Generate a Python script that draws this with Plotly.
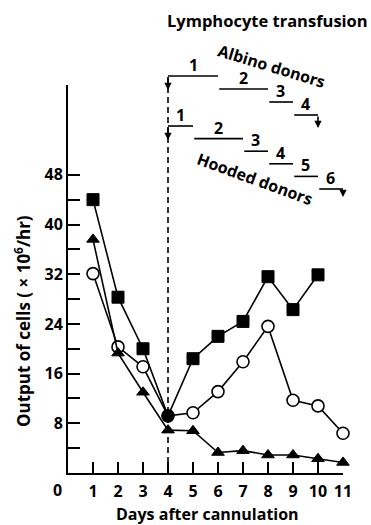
import plotly.graph_objects as go

# ---- data ----
days = [1, 2, 3, 4, 5, 6, 7, 8, 9, 10, 11]
squares = [44, 28.3, 20, 9.2, 18.4, 22, 24.4, 31.6, 26.3, 31.9]
circles = [32.1, 20.3, 17.1, 9.2, 9.7, 13.1, 17.9, 23.6, 11.7, 10.8, 6.4]
triangles = [37.6, 19.3, 13.0, 6.9, 6.8, 3.3, 3.6, 2.9, 2.9, 2.3, 1.7]

albino_start = [4, 6, 8, 9]
albino_end = [6, 8, 9, 10]
hooded_start = [4, 5, 7, 8, 9, 10]
hooded_end = [5, 7, 8, 9, 10, 11]

ytickvals = [4, 8, 12, 16, 20, 24, 28, 32, 36, 40, 44, 48]
yticktext = ["", "8", "", "16", "", "24", "", "32", "", "40", "", "48"]

# ---- layout geometry ----
W, H = 371, 525
ML, MR, MT, MB = 68, 28, 85, 52
PH = H - MT - MB
PW = W - ML - MR
FONT = "Open Sans"
FS = 16


def py(Y):  # pixel y -> paper y
    return (H - MB - Y) / PH


def px(X):
    return (X - ML) / PW


fig = go.Figure()

ln = dict(color="black", width=1.6)
sq_symbols = ["square"] * len(squares)
sq_symbols[3] = "circle"
fig.add_trace(go.Scatter(x=days[:len(squares)], y=squares, mode="lines+markers",
                         line=ln, cliponaxis=False,
                         marker=dict(symbol=sq_symbols, size=12, color="black",
                                     line=dict(color="black", width=1))))
circ_fill = ["white"] * len(circles)
circ_fill[3] = "black"
fig.add_trace(go.Scatter(x=days, y=circles, mode="lines+markers", line=ln,
                         cliponaxis=False,
                         marker=dict(symbol="circle", size=12, color=circ_fill,
                                     line=dict(color="black", width=1.6))))
fig.add_trace(go.Scatter(x=days, y=triangles, mode="lines+markers", line=ln,
                         cliponaxis=False,
                         marker=dict(symbol="triangle-up", size=11, color="black",
                                     line=dict(color="black", width=1))))

shapes = []
annotations = []

# dashed transfusion line
shapes.append(dict(type="line", xref="x", yref="paper", x0=4, x1=4, y0=0, y1=py(77),
                   line=dict(color="black", width=1.6, dash="6px,4px")))

bold = dict(family=FONT, color="black", weight=700)


def bracket(starts, ends, top, step, last_arrow_len):
    n = len(starts)
    for i, (s, e) in enumerate(zip(starts, ends)):
        Y = top + i * step
        x0 = s if i == 0 else s + 0.05
        shapes.append(dict(type="line", xref="x", yref="paper", x0=x0, x1=e,
                           y0=py(Y), y1=py(Y), line=dict(color="black", width=1.6)))
        annotations.append(dict(x=(s + e) / 2, y=py(Y), xref="x", yref="paper",
                                text=str(i + 1), showarrow=False, xanchor="center",
                                yanchor="bottom", yshift=-2,
                                font=dict(size=FS, **bold)))
        if i == 0:
            annotations.append(dict(x=s, y=py(Y + 14), xref="x", yref="paper", text="",
                                    showarrow=True, ax=0, ay=-14, arrowhead=2,
                                    arrowsize=0.9, arrowwidth=1.6, arrowcolor="black"))
        if i == n - 1:
            annotations.append(dict(x=e, y=py(Y + last_arrow_len), xref="x", yref="paper",
                                    text="", showarrow=True, ax=0, ay=-last_arrow_len,
                                    arrowhead=2, arrowsize=0.9, arrowwidth=1.6,
                                    arrowcolor="black"))


bracket(albino_start, albino_end, 76, 13, 13)
bracket(hooded_start, hooded_end, 126, 12.6, 8)


def label(text, X, Y, angle=0, size=FS):
    annotations.append(dict(x=px(X), y=py(Y), xref="paper", yref="paper", text=text,
                            showarrow=False, textangle=angle, xanchor="center",
                            yanchor="middle", font=dict(size=size, **bold)))


label("Lymphocyte transfusion", 267, 21, size=16.5)
label("Albino donors", 271, 66, 17)
label("Hooded donors", 255, 179, 20)
label("Output of cells ( × 10<sup>6</sup>/hr)", 22, 321, -90, size=17)
label("Days after cannulation", 207, 514)
label("0", 57, 490)

fig.update_layout(
    width=W, height=H, margin=dict(l=ML, r=MR, t=MT, b=MB),
    paper_bgcolor="white", plot_bgcolor="white", showlegend=False,
    shapes=shapes, annotations=annotations,
    xaxis=dict(range=[0, 11], showline=True, linewidth=2, linecolor="black",
               ticks="inside", ticklen=11, tickwidth=1.6, tickcolor="black",
               tickvals=days, showgrid=False, zeroline=False,
               ticklabelstandoff=3,
               tickfont=dict(family=FONT, size=FS, color="black", weight=700)),
    yaxis=dict(range=[0, (H - MB - MT) / ((H - MB - 423.3) / 8)], showline=True,
               linewidth=2, linecolor="black",
               ticks="inside", ticklen=12, tickwidth=1.6, tickcolor="black",
               tickvals=ytickvals, ticktext=yticktext, showgrid=False, zeroline=False,
               tickfont=dict(family=FONT, size=FS, color="black", weight=700)),
)

fig.write_html("out.html")
